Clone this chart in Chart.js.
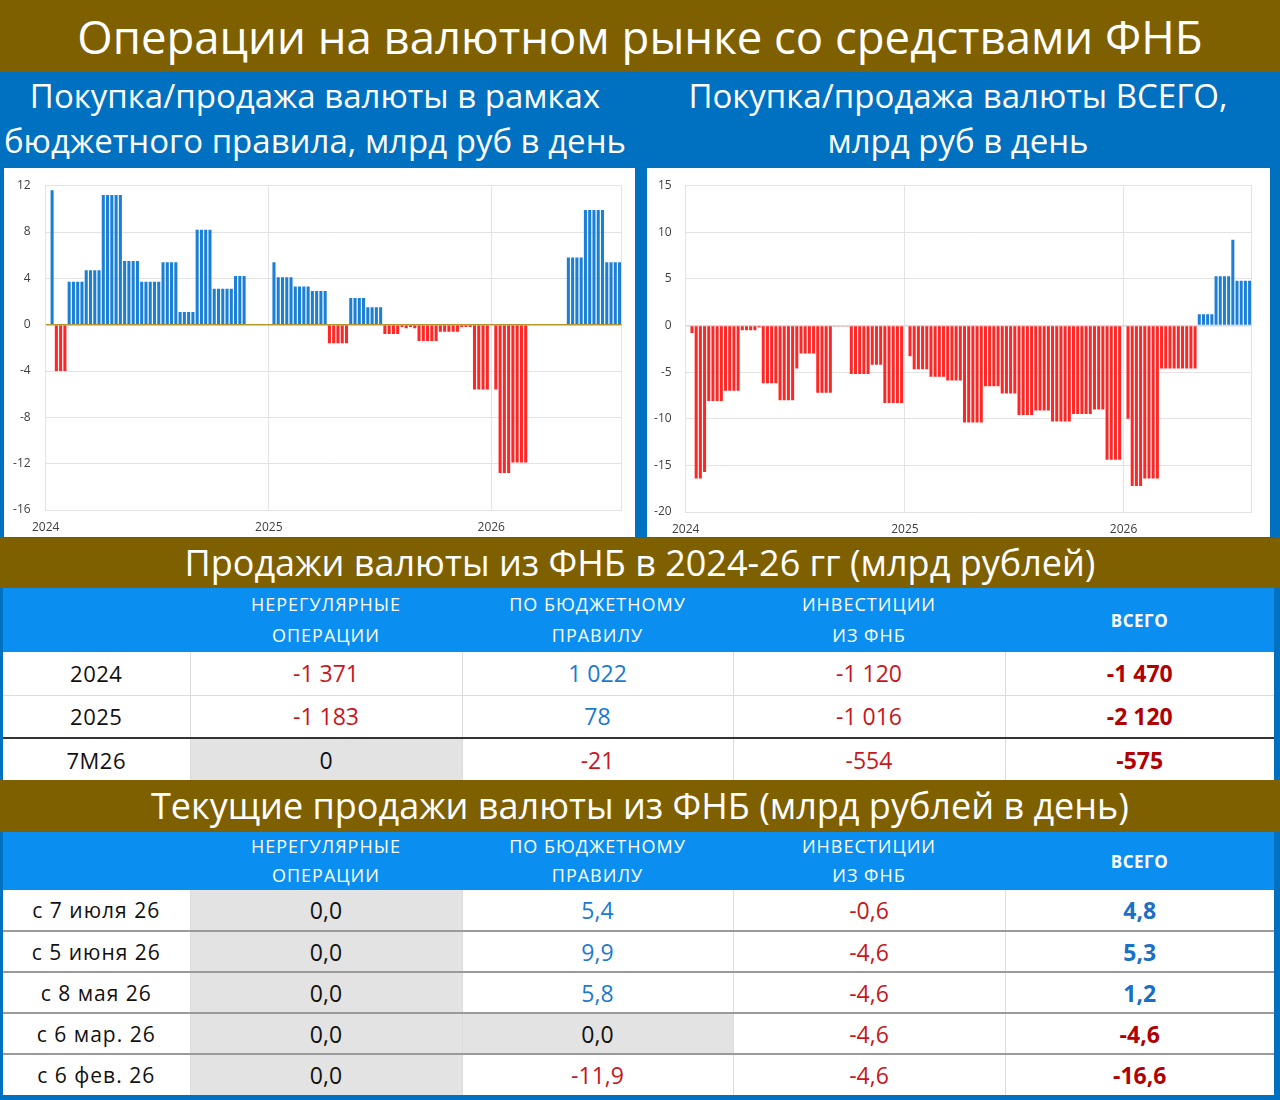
<!DOCTYPE html>
<html lang="ru">
<head>
<meta charset="utf-8">
<title>Операции на валютном рынке со средствами ФНБ</title>
<script src="https://cdn.jsdelivr.net/npm/chart.js@4.4.1/dist/chart.umd.min.js"></script>
<style>
  html, body { margin: 0; padding: 0; }
  body {
    width: 1280px; height: 1100px; position: relative; overflow: hidden;
    background: #0070c0;
    font-family: "Open Sans", "Noto Sans", sans-serif;
  }
  .band {
    position: absolute; left: 0; width: 1280px;
    background: #7f6000; color: #fff; text-align: center; white-space: nowrap;
  }
  #title1 { top: 0; height: 72px; line-height: 72px; font-size: 45.5px; }
  #title2 { top: 538px; height: 50px; line-height: 50px; font-size: 36px; }
  #title3 { top: 780px; height: 52px; line-height: 52px; font-size: 36px; }
  .head {
    position: absolute; top: 73px; color: #fff; font-size: 33px;
    line-height: 45px; text-align: center; white-space: nowrap;
  }
  #headL { left: 0; width: 630px; }
  #headR { left: 640px; width: 636px; }
  .panel { position: absolute; top: 168px; height: 369px; background: #fff; }
  #panelL { left: 4px; width: 631px; }
  #panelR { left: 647px; width: 623px; }
  table {
    position: absolute; left: 3px; width: 1271px;
    border-collapse: collapse; table-layout: fixed; background: #fff;
  }
  #tblYear { top: 588px; }
  #tblNow { top: 832px; }
  th {
    background: #0a8ff0; color: #fff; font-weight: normal;
    font-size: 18px; line-height: 31px; letter-spacing: 1px; padding: 0;
  }
  th.total { font-weight: bold; font-size: 17px; letter-spacing: 0.5px; }
  td {
    text-align: center; font-size: 23px; color: #111; padding: 0;
    border-left: 1px solid #dcdcdc;
  }
  td.lbl { border-left: none; letter-spacing: 0.5px; font-size: 22px; }
  #tblYear thead tr { height: 64px; }
  #tblYear tbody tr { height: 43px; }
  #tblYear tbody tr + tr { border-top: 1px solid #dcdcdc; }
  #tblYear tbody tr.last { border-top: 2px solid #333; }
  #tblNow thead tr { height: 58px; }
  #tblNow th { line-height: 29px; }
  #tblNow tbody tr { height: 41px; }
  #tblNow tbody tr + tr { border-top: 2px solid #9a9a9a; }
  #tblNow td.lbl { font-size: 21px; letter-spacing: 1px; }
  .neg { color: #c8161d; }
  .pos { color: #1a7ad0; }
  .zero { background: #e3e3e3; }
  .tneg { color: #b00000; font-weight: bold; }
  .tpos { color: #1a6fc6; font-weight: bold; }
</style>
</head>
<body>
<div class="band" id="title1">Операции на валютном рынке со средствами ФНБ</div>
<div class="head" id="headL">Покупка/продажа валюты в рамках<br>бюджетного правила, млрд руб в день</div>
<div class="head" id="headR">Покупка/продажа валюты ВСЕГО,<br>млрд руб в день</div>
<div class="panel" id="panelL"><canvas id="chartRule"></canvas></div>
<div class="panel" id="panelR"><canvas id="chartTotal"></canvas></div>
<div class="band" id="title2">Продажи валюты из ФНБ в 2024-26 гг (млрд рублей)</div>
<table id="tblYear"></table>
<div class="band" id="title3">Текущие продажи валюты из ФНБ (млрд рублей в день)</div>
<table id="tblNow"></table>

<script>
// weekly values from the first week of 2024, bln rub per day
const budgetRule = [
  0, 11.6, -4.0, -4.0, -4.0,
  3.7, 3.7, 3.7, 3.7,
  4.7, 4.7, 4.7, 4.7,
  11.2, 11.2, 11.2, 11.2, 11.2,
  5.5, 5.5, 5.5, 5.5,
  3.7, 3.7, 3.7, 3.7, 3.7,
  5.4, 5.4, 5.4, 5.4,
  1.1, 1.1, 1.1, 1.1,
  8.2, 8.2, 8.2, 8.2,
  3.1, 3.1, 3.1, 3.1, 3.1,
  4.2, 4.2, 4.2,
  0, 0, 0, 0, 0, 0,
  5.4, 4.1, 4.1, 4.1, 4.1,
  3.3, 3.3, 3.3, 3.3,
  2.9, 2.9, 2.9, 2.9,
  -1.6, -1.6, -1.6, -1.6, -1.6,
  2.3, 2.3, 2.3, 2.3,
  1.5, 1.5, 1.5, 1.5,
  -0.8, -0.8, -0.8, -0.8,
  -0.2, -0.3, -0.2, -0.3,
  -1.4, -1.4, -1.4, -1.4, -1.4,
  -0.6, -0.6, -0.6, -0.6, -0.6,
  -0.2, -0.2, -0.2,
  -5.6, -5.6, -5.6, -5.6,
  0, -5.6, -12.8, -12.8, -12.8,
  -11.9, -11.9, -11.9, -11.9,
  0, 0, 0, 0, 0, 0, 0, 0, 0,
  5.8, 5.8, 5.8, 5.8,
  9.9, 9.9, 9.9, 9.9, 9.9,
  5.4, 5.4, 5.4, 5.4
];

const totalOps = [
  0, -0.8, -16.4, -16.4, -15.7,
  -8.1, -8.1, -8.1, -8.1,
  -7.0, -7.0, -7.0, -7.0,
  -0.5, -0.5, -0.5, -0.5, -0.2,
  -6.2, -6.2, -6.2, -6.2,
  -8.0, -8.0, -8.0, -8.0, -4.6,
  -3.0, -3.0, -3.0, -3.0,
  -7.2, -7.2, -7.2, -7.2,
  -0.1, -0.1, -0.1, -0.1,
  -5.2, -5.2, -5.2, -5.2, -5.2,
  -4.2, -4.2, -4.2,
  -8.3, -8.3, -8.3, -8.3, -8.3, 0,
  -3.3, -4.7, -4.7, -4.7, -4.7,
  -5.5, -5.5, -5.5, -5.5,
  -5.9, -5.9, -5.9, -5.9,
  -10.4, -10.4, -10.4, -10.4, -10.4,
  -6.5, -6.5, -6.5, -6.5,
  -7.3, -7.3, -7.3, -7.3,
  -9.6, -9.6, -9.6, -9.6,
  -9.1, -9.1, -9.1, -9.1,
  -10.3, -10.3, -10.3, -10.3, -10.3,
  -9.5, -9.5, -9.5, -9.5, -9.5,
  -9.0, -9.0, -9.0,
  -14.4, -14.4, -14.4, -14.4,
  0, -10.0, -17.2, -17.2, -17.2,
  -16.4, -16.4, -16.4, -16.4,
  -4.6, -4.6, -4.6, -4.6, -4.6, -4.6, -4.6, -4.6, -4.6,
  1.2, 1.2, 1.2, 1.2,
  5.3, 5.3, 5.3, 5.3,
  9.2, 4.8, 4.8, 4.8, 4.8
];

const yearLabels = ["2024", "2025", "2026"];

// table: sales from the fund by year, bln rub
const colHeads = [
  ["НЕРЕГУЛЯРНЫЕ", "ОПЕРАЦИИ"],
  ["ПО БЮДЖЕТНОМУ", "ПРАВИЛУ"],
  ["ИНВЕСТИЦИИ", "ИЗ ФНБ"],
  ["ВСЕГО"]
];
const periodLabels = ["2024", "2025", "7M26"];
const irregularYear = [-1371, -1183, 0];
const ruleYear = [1022, 78, -21];
const investYear = [-1120, -1016, -554];
const totalYear = [-1470, -2120, -575];

// table: current daily sales, bln rub per day
const sinceLabels = ["с 7 июля 26", "с 5 июня 26", "с 8 мая 26", "с 6 мар. 26", "с 6 фев. 26"];
const irregularNow = [0.0, 0.0, 0.0, 0.0, 0.0];
const ruleNow = [5.4, 9.9, 5.8, 0.0, -11.9];
const investNow = [-0.6, -4.6, -4.6, -4.6, -4.6];
const totalNow = [4.8, 5.3, 1.2, -4.6, -16.6];

const BLUE = "#1c7fd6";
const RED = "#ff2626";
const GRID = "#e3e3e3";
const tickFont = { family: "Open Sans, Noto Sans, sans-serif", size: 12 };

const weekMs = 7 * 24 * 3600 * 1000;
const origin = Date.UTC(2024, 0, 1);
const yearWeeks = yearLabels.map((y) => (Date.UTC(Number(y), 0, 1) - origin) / weekMs);

function drawChart(id, values, yMin, yMax, step, zeroColor, box) {
  const xTicks = yearWeeks.concat([values.length]);
  new Chart(document.getElementById(id), {
    type: "bar",
    data: {
      datasets: [
        {
          data: values.map((v, i) => ({ x: i + 0.5, y: v })),
          backgroundColor: values.map((v) => (v < 0 ? RED : BLUE)),
          borderWidth: 0,
          barPercentage: 0.72,
          categoryPercentage: 1,
        },
      ],
    },
    options: {
      responsive: true,
      maintainAspectRatio: false,
      animation: false,
      layout: { padding: { top: box.top, right: box.right, left: 0, bottom: 0 } },
      plugins: { legend: { display: false }, tooltip: { enabled: false } },
      scales: {
        x: {
          type: "linear",
          min: 0,
          max: values.length,
          offset: false,
          afterBuildTicks: (s) => {
            s.ticks = xTicks.map((v) => ({ value: v }));
          },
          afterFit: (s) => {
            s.height = box.xh;
          },
          ticks: {
            autoSkip: false,
            maxRotation: 0,
            padding: 10,
            font: tickFont,
            color: "#404040",
            callback: (v, i) => yearLabels[i] || "",
          },
          grid: { offset: false, color: GRID, drawTicks: false },
          border: { color: GRID },
        },
        y: {
          min: yMin,
          max: yMax,
          afterFit: (s) => {
            s.width = box.yw;
            s.paddingTop = 0;
            s.paddingBottom = 0;
          },
          ticks: { stepSize: step, padding: box.pad, font: tickFont, color: "#404040" },
          grid: {
            color: (ctx) => (ctx.tick.value === 0 ? zeroColor : GRID),
            lineWidth: (ctx) => (ctx.tick.value === 0 ? 1.5 : 1),
            drawTicks: false,
          },
          border: { color: GRID },
        },
      },
    },
  });
}

drawChart("chartRule", budgetRule, -16, 12, 4, "#b8962e",
  { top: 17.7, right: 13.3, xh: 27, yw: 41.7, pad: 15 });
drawChart("chartTotal", totalOps, -20, 15, 5, "#d9d9d9",
  { top: 17.7, right: 18.3, xh: 25, yw: 38.7, pad: 14 });

// tables
const fmtInt = (v) => {
  const s = String(Math.abs(v)).replace(/\B(?=(\d{3})+(?!\d))/g, " ");
  return (v < 0 ? "-" : "") + s;
};
const fmtDec = (v) => (v < 0 ? "-" : "") + Math.abs(v).toFixed(1).replace(".", ",");

function cell(v, fmt, isTotal) {
  let cls = "";
  if (isTotal) cls = v < 0 ? "tneg" : "tpos";
  else if (v < 0) cls = "neg";
  else if (v > 0) cls = "pos";
  else cls = "zero";
  return `<td class="${cls}">${fmt(v)}</td>`;
}

function buildTable(id, labels, cols, fmt, widths) {
  const colgroup = "<colgroup>" + widths.map((w) => `<col style="width:${w}px">`).join("") + "</colgroup>";
  const head =
    "<thead><tr><th></th>" +
    colHeads
      .map((h, i) => `<th class="${i === colHeads.length - 1 ? "total" : ""}">${h.join("<br>")}</th>`)
      .join("") +
    "</tr></thead>";
  const body =
    "<tbody>" +
    labels
      .map((lbl, r) => {
        const cls = r === labels.length - 1 && id === "tblYear" ? ' class="last"' : "";
        return (
          `<tr${cls}><td class="lbl">${lbl}</td>` +
          cols.map((c, k) => cell(c[r], fmt, k === cols.length - 1)).join("") +
          "</tr>"
        );
      })
      .join("") +
    "</tbody>";
  document.getElementById(id).innerHTML = colgroup + head + body;
}

const widths = [187, 272, 271, 272, 269];
buildTable("tblYear", periodLabels, [irregularYear, ruleYear, investYear, totalYear], fmtInt, widths);
buildTable("tblNow", sinceLabels, [irregularNow, ruleNow, investNow, totalNow], fmtDec, widths);
</script>
</body>
</html>
